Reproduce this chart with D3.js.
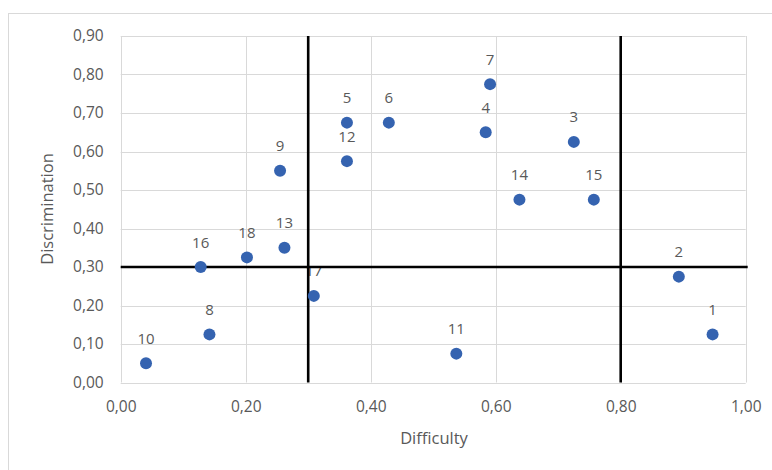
<!DOCTYPE html>
<html><head><meta charset="utf-8">
<script src="https://cdn.jsdelivr.net/npm/d3@7"></script>
<style>
body{margin:0;background:#fff;}
text{font-family:"Open Sans","Noto Sans",sans-serif;}
</style></head>
<body><svg id="c" width="772" height="470"></svg>
<script>
const items = ["1","2","3","4","5","6","7","8","9","10","11","12","13","14","15","16","17","18"];
const difficulty = [0.947,0.893,0.725,0.584,0.362,0.429,0.591,0.142,0.255,0.0405,0.537,0.362,0.262,0.638,0.757,0.128,0.309,0.202];
const discrimination = [0.125,0.275,0.625,0.65,0.675,0.675,0.775,0.125,0.55,0.05,0.075,0.575,0.35,0.475,0.475,0.30,0.225,0.325];
const xTicks = [0,0.2,0.4,0.6,0.8,1.0];
const yTicks = [0,0.1,0.2,0.3,0.4,0.5,0.6,0.7,0.8,0.9];
const xThresholds = [0.3,0.8];
const yThresholds = [0.3];

const svg = d3.select("#c");
const fmt = v => d3.format(".2f")(v).replace(".", ",");
const x = d3.scaleLinear().domain([0,1]).range([120.7,745.7]);
const y = d3.scaleLinear().domain([0,0.9]).range([382.5,36]);
const grey = "#595959";

svg.append("rect").attr("x",8.5).attr("y",13.5).attr("width",800).attr("height",500)
  .attr("fill","#fff").attr("stroke","#d9d9d9");

// gridlines
svg.append("g").selectAll("line").data(yTicks).join("line")
  .attr("x1",x(0)).attr("x2",x(1)).attr("y1",d=>Math.round(y(d))+0.5).attr("y2",d=>Math.round(y(d))+0.5)
  .attr("stroke","#d9d9d9").attr("stroke-width",1);
svg.append("g").selectAll("line").data(xTicks).join("line")
  .attr("y1",y(0)).attr("y2",y(0.9)).attr("x1",d=>Math.round(x(d))+0.5).attr("x2",d=>Math.round(x(d))+0.5)
  .attr("stroke","#d9d9d9").attr("stroke-width",1);

// axes
const yAxis = d3.axisLeft(y).tickValues(yTicks).tickFormat(fmt).tickSize(0).tickPadding(17);
const gy = svg.append("g").attr("transform",`translate(${x(0)},0)`).call(yAxis);
gy.select(".domain").remove();
gy.selectAll("text").attr("fill",grey).style("font-size","15.5px").style("font-family","'Open Sans'");
const xAxis = d3.axisBottom(x).tickValues(xTicks).tickFormat(fmt).tickSize(0).tickPadding(18);
const gx = svg.append("g").attr("transform",`translate(0,${y(0)})`).call(xAxis);
gx.select(".domain").remove();
gx.selectAll("text").attr("fill",grey).style("font-size","15.5px").style("font-family","'Open Sans'");

// axis titles
svg.append("text").attr("x",434).attr("y",444).attr("text-anchor","middle")
  .attr("fill",grey).style("font-size","16.5px").text("Difficulty");
svg.append("text").attr("transform","translate(53,209) rotate(-90)").attr("text-anchor","middle")
  .attr("fill",grey).style("font-size","16.5px").text("Discrimination");

const data = items.map((k,i)=>({k, dx:difficulty[i], dy:discrimination[i]}));

// labels
svg.append("g").selectAll("text").data(data).join("text")
  .attr("x",d=>x(d.dx)).attr("y",d=>y(d.dy)-19.5).attr("text-anchor","middle")
  .attr("fill",grey).style("font-size","15px").text(d=>d.k);

// threshold lines
svg.append("g").selectAll("line").data(xThresholds).join("line")
  .attr("x1",d=>x(d)).attr("x2",d=>x(d)).attr("y1",y(0)).attr("y2",y(0.9))
  .attr("stroke","#000").attr("stroke-width",2.6);
svg.append("g").selectAll("line").data(yThresholds).join("line")
  .attr("y1",d=>y(d)).attr("y2",d=>y(d)).attr("x1",x(0)).attr("x2",x(1)+2)
  .attr("stroke","#000").attr("stroke-width",2.6);

// dots
svg.append("g").selectAll("circle").data(data).join("circle")
  .attr("cx",d=>x(d.dx)).attr("cy",d=>y(d.dy)).attr("r",6)
  .attr("fill","#3563b0");
</script></body></html>
